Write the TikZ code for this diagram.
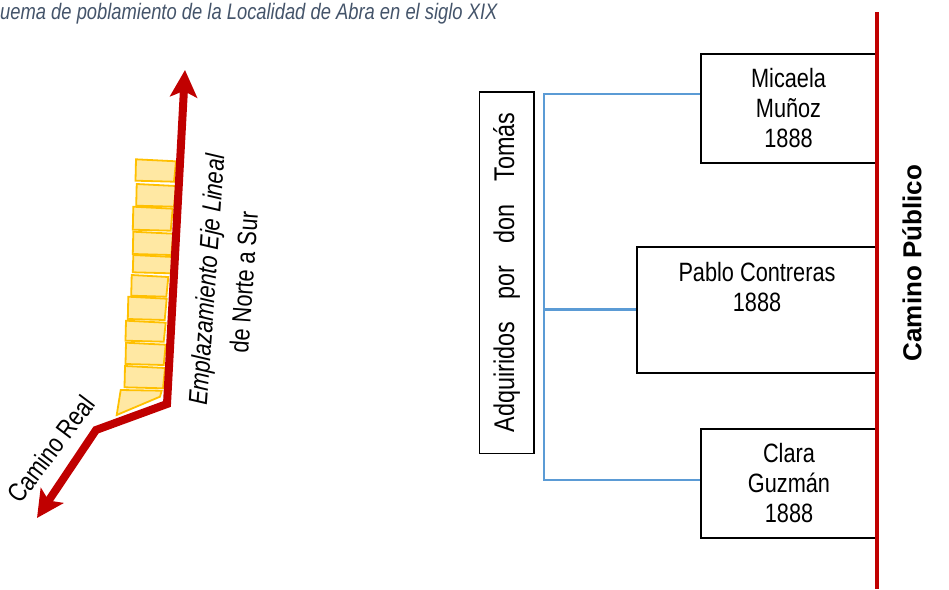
\documentclass[tikz,border=0pt]{standalone}
\usepackage{fontspec}
\setmainfont{Liberation Sans}[FakeStretch=0.82]
\newfontfamily\widesans{Liberation Sans}
\usetikzlibrary{arrows.meta, positioning, calc}
\definecolor{roadred}{RGB}{192, 0, 0}
\definecolor{lotfill}{RGB}{255, 232, 163}
\definecolor{lotedge}{RGB}{255, 192, 0}
\definecolor{linkblue}{RGB}{91, 155, 213}
\definecolor{titlegray}{RGB}{68, 84, 106}

\tikzset{
  owner/.style={draw, line width=1.6pt, align=center, inner sep=0pt,
    font=\fontsize{26.5}{30}\selectfont},
  link/.style={linkblue, line width=2.6pt},
  road/.style={roadred, line width=8pt, line join=miter,
    {Stealth[length=27pt, width=27pt, inset=6pt]}-{Stealth[length=27pt, width=27pt, inset=6pt]}},
  lot/.style={draw=lotedge, fill=lotfill, line width=1.8pt}
}

\begin{document}
\begin{tikzpicture}[x=1pt, y=-1pt]
  \useasboundingbox (0,0) rectangle (949,589);

  % Title
  \node[anchor=base west, inner sep=0pt, titlegray,
    font=\fontsize{22.4}{26}\selectfont\itshape] (title) at (0,19)
    {uema de poblamiento de la Localidad de Abra en el siglo XIX};

  % Lots along the road
  \foreach \xl/\yt/\xr/\yb in {136/159.3/176/181.7, 136.7/184/176/206.7,
      133.3/206.7/172.7/230.7, 133.3/231.7/173.3/255, 133.3/255/173.3/273.3,
      131.7/275/168.3/296.7, 128.3/296.7/166.7/320, 126/320.7/165.7/341.7,
      126/342.7/165.7/365, 125/366/165/388.3}
    \draw[lot] (\xl,\yt) -- (\xr,\yt+2) -- (\xr-2,\yb) -- (\xl-0.5,\yb-1) -- cycle;
  \draw[lot] (120.7,390) -- (161.7,390.7) -- (160,396.7) -- (116.7,415) -- cycle;

  % Camino Real
  \coordinate (north) at (185,70);
  \coordinate (bendA) at (167,404);
  \coordinate (bendB) at (96,430);
  \coordinate (south) at (37,518);
  \draw[road] (south) -- (bendB) -- (bendA) -- (north);

  \node[rotate=86, align=center, font=\fontsize{26.5}{37.5}\selectfont] (axis) at (225,281)
    {{\itshape Emplazamiento Eje Lineal}\\de Norte a Sur};
  \node[rotate=53, font=\fontsize{26.5}{30}\selectfont] (real) at (51,449) {Camino Real};

  % Owners
  \node[owner, rotate=90, minimum width=361.6pt, minimum height=54.7pt,
    font=\fontsize{28.5}{30}\selectfont] (adq) at (506.7,272.5)
    {\makebox[320pt][s]{Adquiridos por don Tomás}};

  \node[owner, minimum width=175pt, minimum height=109pt] (micaela) at (788.5,108.5)
    {Micaela\\Muñoz\\1888};
  \node[owner, minimum width=240pt, minimum height=126pt] (pablo) at (757,309.7) {};
  \node[align=center, font=\fontsize{26.5}{30}\selectfont] (pablotext) at (757,287)
    {Pablo Contreras\\1888};
  \node[owner, minimum width=176pt, minimum height=109pt] (clara) at (789,483.4)
    {Clara\\Guzmán\\1888};

  % Links
  \coordinate (spinetop) at (544,94);
  \coordinate (spinebot) at (544,480);
  \draw[link] (micaela.west |- spinetop) -- (spinetop) -- (spinebot) -- (clara.west |- spinebot);
  \draw[link] (spinetop |- pablo.west) -- (pablo.west);

  % Camino Publico
  \coordinate (pubtop) at (877,12);
  \coordinate (pubbot) at (877,589);
  \draw[roadred, line width=4.3pt] (pubtop) -- (pubbot);
  \node[rotate=90, font=\widesans\bfseries\fontsize{26}{30}\selectfont] (publico) at (912,263)
    {Camino Público};
\end{tikzpicture}
\end{document}
